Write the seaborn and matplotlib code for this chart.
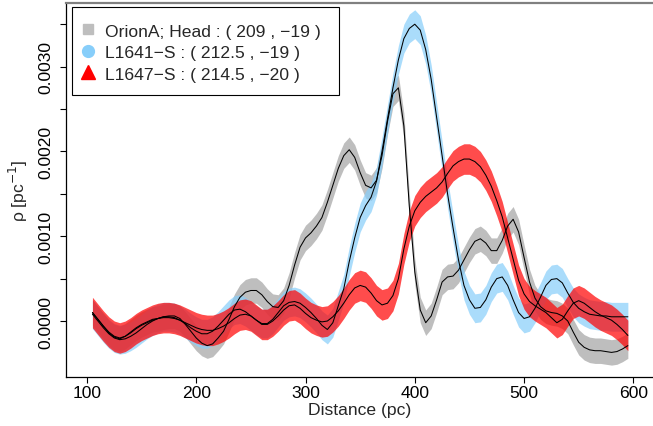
import numpy as np
import matplotlib
matplotlib.use("Agg")
import matplotlib.pyplot as plt
from matplotlib.lines import Line2D
from matplotlib.patches import Rectangle
import seaborn as sns

# distance grid (pc), every 5 pc
distance = list(range(105, 600, 5))

# OrionA; Head
rho_head = [
    0.00010, 0.00002, -0.00006, -0.00014, -0.00019, -0.00021, -0.00018, -0.00013, -0.00008, -0.00004,
    -0.00001, 0.00002, 0.00003, 0.00005, 0.00006, 0.00006, 0.00003, -0.00004, -0.00012, -0.00020,
    -0.00026, -0.00029, -0.00027, -0.00020, -0.00012, 0.00002, 0.00017, 0.00028, 0.00034, 0.00036,
    0.00036, 0.00031, 0.00023, 0.00017, 0.00016, 0.00024, 0.00042, 0.00066, 0.00087, 0.00098,
    0.00104, 0.00112, 0.00122, 0.00140, 0.00160, 0.00180, 0.00195, 0.00202, 0.00193, 0.00175,
    0.00160, 0.00157, 0.00166, 0.00195, 0.00235, 0.00268, 0.00275, 0.00230, 0.00135, 0.00058,
    0.00013, -0.00002, 0.00006, 0.00025, 0.00046, 0.00052, 0.00053, 0.00060, 0.00072, 0.00084,
    0.00094, 0.00097, 0.00092, 0.00083, 0.00083, 0.00095, 0.00112, 0.00120, 0.00105, 0.00075,
    0.00046, 0.00027, 0.00017, 0.00012, 0.00010, 0.00009, 0.00006, 0.00000, -0.00013, -0.00025,
    -0.00031, -0.00034, -0.00035, -0.00035, -0.00036, -0.00037, -0.00036, -0.00033, -0.00029,
]

# L1641-S
rho_l1641 = [
    0.00008, 0.00000, -0.00008, -0.00015, -0.00020, -0.00022, -0.00021, -0.00018, -0.00014, -0.00009,
    -0.00004, 0.00000, 0.00003, 0.00005, 0.00005, 0.00004, 0.00001, -0.00003, -0.00008, -0.00012,
    -0.00015, -0.00015, -0.00012, -0.00006, 0.00001, 0.00008, 0.00013, 0.00014, 0.00011, 0.00006,
    0.00001, -0.00003, -0.00003, 0.00002, 0.00010, 0.00018, 0.00022, 0.00023, 0.00021, 0.00016,
    0.00010, 0.00003, -0.00005, -0.00010, -0.00002, 0.00018, 0.00038, 0.00070, 0.00098, 0.00122,
    0.00136, 0.00146, 0.00165, 0.00200, 0.00238, 0.00275, 0.00308, 0.00333, 0.00345, 0.00350,
    0.00343, 0.00320, 0.00285, 0.00240, 0.00195, 0.00150, 0.00110, 0.00072, 0.00042, 0.00025,
    0.00015, 0.00016, 0.00025, 0.00040, 0.00050, 0.00052, 0.00042, 0.00025, 0.00010, 0.00003,
    0.00005, 0.00015, 0.00028, 0.00042, 0.00049, 0.00050, 0.00045, 0.00033, 0.00022, 0.00015,
    0.00011, 0.00008, 0.00007, 0.00006, 0.00006, 0.00005, 0.00005, 0.00005, 0.00005,
]

# L1647-S
rho_l1647 = [
    0.00010, 0.00002, -0.00006, -0.00013, -0.00018, -0.00020, -0.00018, -0.00014, -0.00009, -0.00005,
    -0.00002, 0.00001, 0.00003, 0.00004, 0.00004, 0.00003, 0.00001, -0.00002, -0.00005, -0.00008,
    -0.00010, -0.00011, -0.00011, -0.00009, -0.00006, -0.00002, 0.00003, 0.00007, 0.00008, 0.00006,
    0.00001, -0.00004, -0.00004, 0.00000, 0.00006, 0.00013, 0.00018, 0.00019, 0.00015, 0.00009,
    0.00004, 0.00001, -0.00001, 0.00000, 0.00005, 0.00012, 0.00021, 0.00031, 0.00039, 0.00042,
    0.00040, 0.00033, 0.00024, 0.00019, 0.00021, 0.00030, 0.00050, 0.00085, 0.00112, 0.00130,
    0.00140, 0.00147, 0.00152, 0.00157, 0.00164, 0.00174, 0.00183, 0.00188, 0.00191, 0.00191,
    0.00188, 0.00182, 0.00172, 0.00159, 0.00142, 0.00123, 0.00098, 0.00073, 0.00048, 0.00032,
    0.00023, 0.00018, 0.00014, 0.00010, 0.00004, -0.00002, 0.00002, 0.00012, 0.00021, 0.00024,
    0.00021, 0.00016, 0.00011, 0.00007, 0.00004, 0.00001, -0.00004, -0.00010, -0.00017,
]

# half-widths of the uncertainty bands
band_head = 0.00015
band_l1641 = 0.00017
band_l1647 = 0.00018

labels = [
    "OrionA; Head : ( 209 , \u221219 )",
    "L1641\u2212S : ( 212.5 , \u221219 )",
    "L1647\u2212S : ( 214.5 , \u221220 )",
]

sns.set_style("ticks")
plt.rcParams["font.family"] = ["Liberation Sans", "DejaVu Sans"]
fs = 12.6

fig = plt.figure(figsize=(6.53, 4.27), dpi=100)
ax = fig.add_axes([66 / 653, 1 - 378 / 427, 1 - 66 / 653, 374 / 427])

x = np.array(distance)
series = [
    (np.array(rho_head), band_head, "#bebebe", 1.0),
    (np.array(rho_l1641), band_l1641, "#87cefa", 0.7),
    (np.array(rho_l1647), band_l1647, "#ff0000", 0.7),
]
for y, w, col, a in series:
    ax.fill_between(x, y - w, y + w, color=col, alpha=a, lw=0)
    sns.lineplot(x=x, y=y, ax=ax, color="black", lw=0.75, legend=False)

ax.set_xlim(80.8, 618)
ax.set_ylim(-0.00066, 0.00375)

ax.set_xticks([100, 200, 300, 400, 500, 600])
yt = [0.0, 0.0005, 0.0010, 0.0015, 0.0020, 0.0025, 0.0030, 0.0035]
ax.set_yticks(yt)
ax.set_yticklabels(["0.0000", "", "0.0010", "", "0.0020", "", "0.0030", ""],
                   rotation=90, va="center")
ax.tick_params(axis="both", labelsize=fs, length=4, width=0.8, color="black",
               labelcolor="black")
ax.tick_params(axis="x", pad=2)
ax.tick_params(axis="y", pad=5)

for s in ["left", "bottom"]:
    ax.spines[s].set_color("black")
    ax.spines[s].set_linewidth(0.9)
ax.spines["right"].set_visible(False)
ax.spines["top"].set_color("#808080")
ax.spines["top"].set_linewidth(1.6)

ax.set_xlabel("Distance (pc)", fontsize=fs, labelpad=1)
ax.set_ylabel("\u03c1 [pc$^{-1}$]", fontsize=fs, labelpad=6)

# legend box drawn separately (R-style, more padding above/below than beside)
ax.add_patch(Rectangle((6 / 587, 282 / 374), 267 / 587, 88 / 374,
                       transform=ax.transAxes, facecolor="white",
                       edgecolor="black", lw=0.8, zorder=4))

handles = [
    Line2D([], [], ls="", marker="s", color="#bebebe", markersize=7),
    Line2D([], [], ls="", marker="o", color="#87cefa", markersize=8.5),
    Line2D([], [], ls="", marker="^", color="#ff0000", markersize=10),
]
leg = ax.legend(handles, labels, loc="upper left", bbox_to_anchor=(0.0102, 0.9692),
                fontsize=fs, frameon=False, borderpad=0.5, handletextpad=0.56,
                labelspacing=0.36, handlelength=0.83, borderaxespad=0)
leg.set_zorder(5)

fig.savefig("out.png", dpi=100)
